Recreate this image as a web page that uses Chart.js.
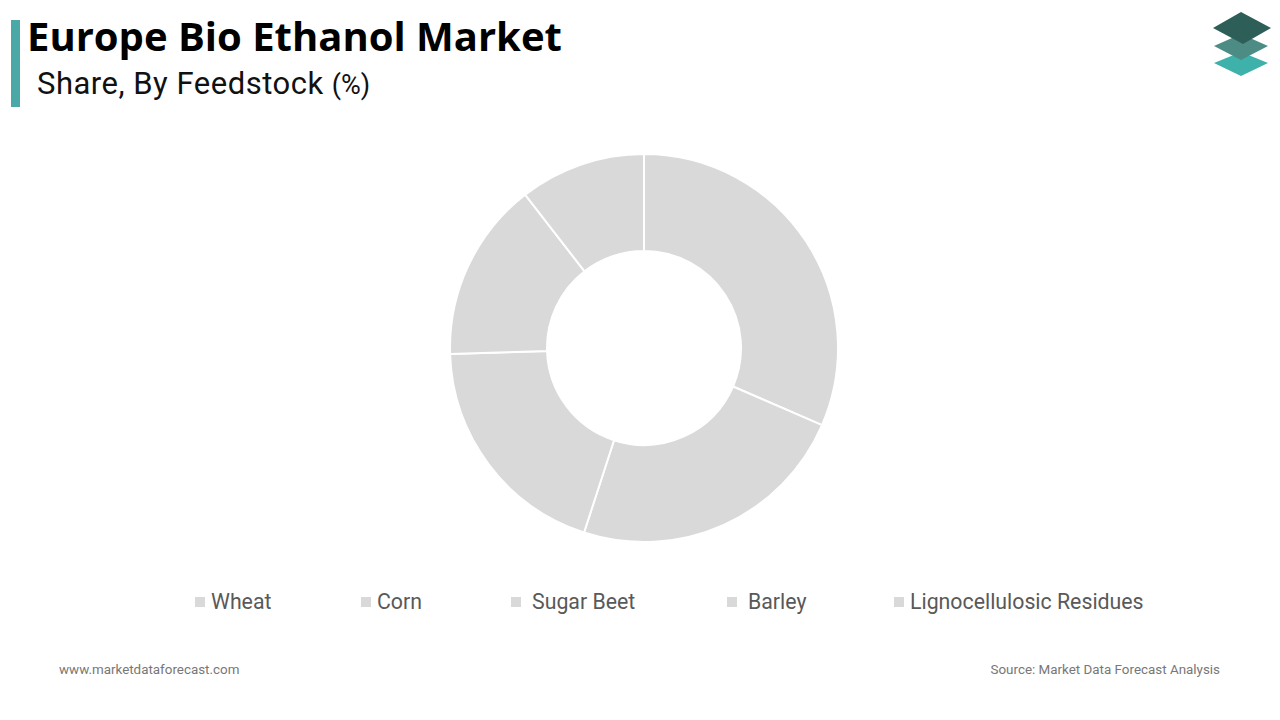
<!DOCTYPE html>
<html>
<head>
<meta charset="utf-8">
<script src="https://cdn.jsdelivr.net/npm/chart.js@4/dist/chart.umd.min.js"></script>
<style>
  body { margin: 0; width: 1280px; height: 720px; background: #fff; position: relative; overflow: hidden; font-family: Roboto, sans-serif; }
  #bar { position: absolute; left: 11px; top: 20px; width: 9px; height: 87px; background: #4aa9a7; }
  #title { position: absolute; left: 27px; top: 8px; font-family: "Open Sans", sans-serif; font-weight: 700; font-size: 40px; color: #000; letter-spacing: 0px; }
  #subtitle { position: absolute; left: 37px; top: 65px; font-size: 31px; letter-spacing: 0.5px; color: #111; }
  #subtitle small { font-size: 27px; letter-spacing: 0; }
  #chartBox { position: absolute; left: 449px; top: 153px; width: 390px; height: 390px; }
  #legend { position: absolute; top: 589px; left: 0; width: 1280px; height: 30px; }
  .item { position: absolute; font-size: 21.3px; color: #595959; white-space: nowrap; }
  .sw { display: inline-block; width: 10px; height: 10px; background: #d9d9d9; margin-right: 6px; vertical-align: 2px; }
  #site { position: absolute; left: 59px; top: 662px; font-size: 13.4px; color: #777; }
  #source { position: absolute; right: 60px; top: 662px; font-size: 13.4px; color: #777; }
  #logo { position: absolute; left: 1205px; top: 8px; }
</style>
</head>
<body>
<div id="bar"></div>
<div id="title">Europe Bio Ethanol Market</div>
<div id="subtitle">Share, By Feedstock <small>(%)</small></div>
<svg id="logo" width="72" height="72" viewBox="0 0 72 72">
  <polygon points="36,44 63,55 36,68 9,55" fill="#3fb1ab"/>
  <polygon points="36,26 63,38 36,52 9,38" fill="#4d8c85"/>
  <polygon points="36,4 66,20 38,36 8,20" fill="#2e5e58"/>
</svg>
<div id="chartBox"><canvas id="donut"></canvas></div>
<div id="legend"></div>
<div id="site">www.marketdataforecast.com</div>
<div id="source">Source: Market Data Forecast Analysis</div>
<script>
(function () {
    "use strict";

    // categories and shares
    const categories = ["Wheat", "Corn", "Sugar Beet", "Barley", "Lignocellulosic Residues"];
    const shares = [31.5, 23.5, 19.5, 15, 10.5];
    const legendLeft = [195, 361, 511, 727, 894];

    const ctx = document.getElementById("donut").getContext("2d");
    new Chart(ctx, {
        type: "doughnut",
        data: {
            labels: categories,
            datasets: [
                {
                    data: shares,
                    backgroundColor: "#d9d9d9",
                    hoverBackgroundColor: "#d9d9d9",
                    borderColor: "#ffffff",
                    borderWidth: 2,
                },
            ],
        },
        options: {
            responsive: true,
            maintainAspectRatio: false,
            animation: false,
            cutout: "50%",
            plugins: {
                legend: { display: false },
                tooltip: { enabled: false },
            },
        },
    });

    // legend built from the same categories
    const legend = document.getElementById("legend");
    categories.forEach((name, i) => {
        const el = document.createElement("div");
        el.className = "item";
        el.style.left = legendLeft[i] + "px";
        const gap = (name === "Sugar Beet" || name === "Barley") ? 11 : 6;
        el.innerHTML = '<span class="sw" style="margin-right:' + gap + 'px"></span>' + name;
        legend.appendChild(el);
    });
})();
</script>
</body>
</html>
